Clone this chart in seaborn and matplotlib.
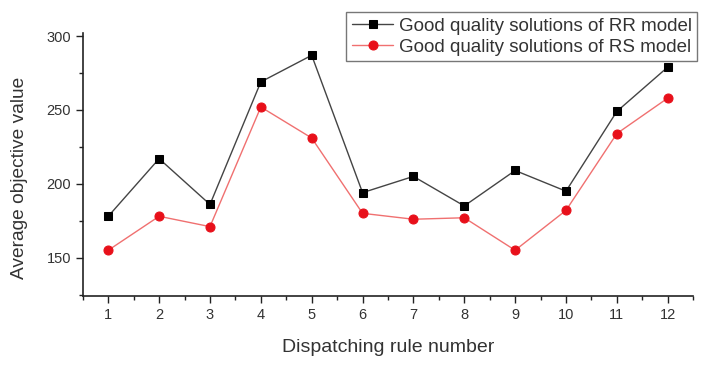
import numpy as np
import pandas as pd
import matplotlib
matplotlib.use("Agg")
import matplotlib.pyplot as plt
from matplotlib.ticker import MultipleLocator
import seaborn as sns

rules = list(range(1, 13))
rr_values = [178, 217, 186, 269, 287, 194, 205, 185, 209, 195, 249, 279]
rs_values = [155, 178, 171, 252, 231, 180, 176, 177, 155, 182, 234, 258]
rr_label = "Good quality solutions of RR model"
rs_label = "Good quality solutions of RS model"

sns.set_style("white")
plt.rcParams['font.family'] = ['Liberation Sans', 'DejaVu Sans']

df = pd.DataFrame({"rule": rules, "RR": rr_values, "RS": rs_values})

fig = plt.figure(figsize=(7.08, 3.81), dpi=100)
ax = fig.add_axes([0.117, 0.223, 0.862, 0.69])

sns.lineplot(data=df, x="rule", y="RR", ax=ax, color="#444444", lw=1.0,
             marker="s", markersize=5.5, markerfacecolor="black",
             markeredgecolor="black", label=rr_label)
sns.lineplot(data=df, x="rule", y="RS", ax=ax, color="#f07070", lw=1.0,
             marker="o", markersize=6.5, markerfacecolor="#e8101a",
             markeredgecolor="#e8101a", label=rs_label)

ax.set_xlim(0.5, 12.5)
ax.set_ylim(124, 302)
ax.set_xticks(rules)
ax.xaxis.set_minor_locator(MultipleLocator(0.5))
ax.yaxis.set_major_locator(MultipleLocator(50))
ax.yaxis.set_minor_locator(MultipleLocator(25))
ax.set_yticks([150, 200, 250, 300])

for s in ["top", "right"]:
    ax.spines[s].set_visible(False)
for s in ["left", "bottom"]:
    ax.spines[s].set_color("#222222")
    ax.spines[s].set_linewidth(1.2)

ax.tick_params(which="major", direction="out", length=5, width=1, color="#222222",
               labelsize=10.5, labelcolor="#333333", left=True, bottom=True)
ax.tick_params(which="minor", direction="out", length=3, width=1, color="#222222",
               left=True, bottom=True)

ax.set_xlabel("Dispatching rule number", fontsize=14, color="#333333", labelpad=12)
ax.set_ylabel("Average objective value", fontsize=13.8, color="#333333", labelpad=10)
ax.yaxis.set_label_coords(-0.09, 0.45)

leg = ax.legend(loc="upper right", bbox_to_anchor=(0.985, 0.968),
                bbox_transform=fig.transFigure, fontsize=13.5,
                frameon=True, fancybox=False, borderpad=0.3, labelspacing=0.2,
                handlelength=2.2, handletextpad=0.3, borderaxespad=0)
leg.get_frame().set_edgecolor("#555555")
leg.get_frame().set_linewidth(1.0)
for t in leg.get_texts():
    t.set_color("#333333")

fig.savefig("out.png", dpi=100)
